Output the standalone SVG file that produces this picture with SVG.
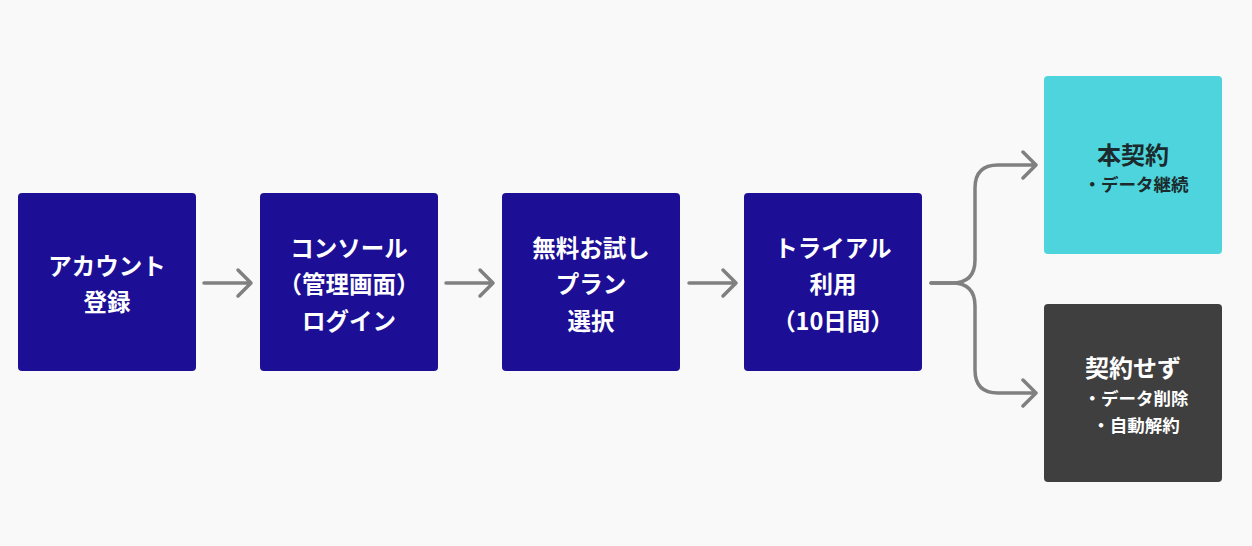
<svg xmlns="http://www.w3.org/2000/svg" width="1252" height="546" viewBox="0 0 1252 546">
<defs>
<style>
.box{fill:#1c0f96}
.t{font-family:"Noto Sans CJK JP","Noto Sans",sans-serif;font-weight:700;fill:#ffffff;text-anchor:middle;dominant-baseline:central}
.main{font-size:23.5px}
.big{font-size:24px}
.sub{font-size:17.5px}
.dark{fill:#1b2a2c}
.conn{fill:none;stroke:#808080;stroke-width:3.5;stroke-linecap:round;stroke-linejoin:round}
</style>
</defs>
<rect width="1252" height="546" fill="#f9f9f9"/>
<g id="connectors">
<path class="conn" d="M204 283H250M238 270L251 283L238 296"/>
<path class="conn" d="M446 283H492M480 270L493 283L480 296"/>
<path class="conn" d="M689 283H735M723 270L736 283L723 296"/>
<path class="conn" d="M931 283H952Q975 283 975 260V188Q975 165 998 165H1036M1023 152L1036 165L1023 178"/>
<path class="conn" d="M931 283H952Q975 283 975 306V370Q975 393 998 393H1036M1023 380L1036 393L1023 406"/>
</g>
<g id="n1">
<rect class="box" x="18" y="193" width="178" height="178" rx="4"/>
<text class="t main" x="107" y="265">アカウント</text>
<text class="t main" x="107" y="301">登録</text>
</g>
<g id="n2">
<rect class="box" x="260" y="193" width="178" height="178" rx="4"/>
<text class="t main" x="349" y="247">コンソール</text>
<text class="t main" x="349" y="283">（管理画面）</text>
<text class="t main" x="349" y="320">ログイン</text>
</g>
<g id="n3">
<rect class="box" x="502" y="193" width="178" height="178" rx="4"/>
<text class="t main" x="591" y="247">無料お試し</text>
<text class="t main" x="591" y="283">プラン</text>
<text class="t main" x="591" y="320">選択</text>
</g>
<g id="n4">
<rect class="box" x="744" y="193" width="178" height="178" rx="4"/>
<text class="t main" x="833" y="247">トライアル</text>
<text class="t main" x="833" y="283">利用</text>
<text class="t main" x="833" y="320">（10日間）</text>
</g>
<g id="n5">
<rect x="1044" y="76" width="178" height="178" rx="4" fill="#4dd4dc"/>
<text class="t big dark" x="1133" y="153">本契約</text>
<text class="t sub dark" x="1136" y="183">・データ継続</text>
</g>
<g id="n6">
<rect x="1044" y="304" width="178" height="178" rx="4" fill="#3f3f3f"/>
<text class="t big" x="1133" y="366">契約せず</text>
<text class="t sub" x="1136" y="397">・データ削除</text>
<text class="t sub" x="1136" y="424">・自動解約</text>
</g>
</svg>
